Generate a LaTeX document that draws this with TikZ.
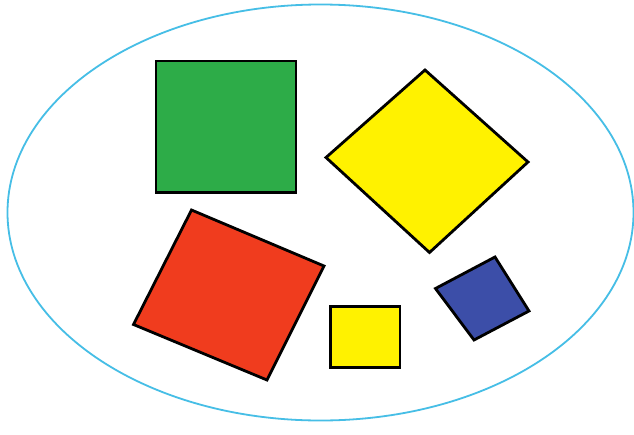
\documentclass[tikz,border=0pt]{standalone}
\definecolor{ovalc}{RGB}{70,190,230}
\definecolor{grn}{RGB}{45,172,72}
\definecolor{ylw}{RGB}{255,242,0}
\definecolor{rd}{RGB}{240,60,30}
\definecolor{blu}{RGB}{60,78,168}
\begin{document}
\begin{tikzpicture}[x=1pt,y=-1pt,
  shapeline/.style={draw=black,line width=2.8pt,line join=miter}]
\useasboundingbox (0,0) rectangle (634,434);
\fill[white] (0,0) rectangle (634,434);
\draw[ovalc,line width=1.8pt] (320.5,212.5) ellipse [x radius=313, y radius=208];
% green square
\filldraw[shapeline,fill=grn] (156,61) rectangle (296,192.5);
% yellow diamond
\filldraw[shapeline,fill=ylw] (425,70) -- (528,162) -- (429.5,252.5) -- (326,157.5) -- cycle;
% red rotated square
\filldraw[shapeline,fill=rd] (191.5,210) -- (324,266) -- (267,380) -- (133.5,324.5) -- cycle;
% small yellow square
\filldraw[shapeline,fill=ylw] (330.5,306.5) rectangle (400,367.5);
% blue rotated square
\filldraw[shapeline,fill=blu] (495,257) -- (529,311) -- (474,340) -- (435.5,288.5) -- cycle;
\end{tikzpicture}
\end{document}
